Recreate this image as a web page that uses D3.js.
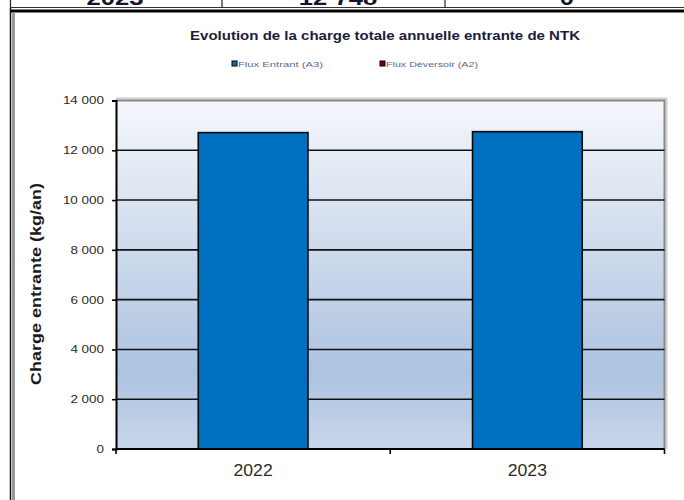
<!DOCTYPE html>
<html>
<head>
<meta charset="utf-8">
<script src="https://cdn.jsdelivr.net/npm/d3@7"></script>
<style>
  body { margin: 0; background: #fff; }
  svg { display: block; font-family: "Liberation Sans", Arial, sans-serif; }
</style>
</head>
<body>
<div id="chart"></div>
<script>
// values
const years = ["2022", "2023"]
const fluxEntrant = [12710, 12748]
const yTicks = [0, 2000, 4000, 6000, 8000, 10000, 12000, 14000]
const legendLabels = ["Flux Entrant (A3)", "Flux Déversoir (A2)"]
const tableRow = ["2023", "12 748", "0"]

const title = "Evolution de la charge totale annuelle entrante de NTK"
const yLabel = "Charge entrante (kg/an)"

const legendFills = ["#0070c0", "#7a0000"]
const stretch = 1.28 // source text is squeezed wider than it is tall

const dims = {
    width: 684,
    height: 500,
    plot: { left: 116, right: 664.5, top: 100.5, bottom: 449 }
}

const fr = d3.formatLocale({ decimal: ",", thousands: "\u00a0", grouping: [3], currency: ["", "€"] })
const fmt = fr.format(",d")

const svg = d3.select("#chart")
    .append("svg")
    .attr("width", dims.width)
    .attr("height", dims.height)

// stretch a text node horizontally to a given factor of its own width
function widen(sel, k) {
    sel.each(function() {
        const len = this.getComputedTextLength()
        d3.select(this).attr("textLength", len * k).attr("lengthAdjust", "spacingAndGlyphs")
    })
}

// --- bit of the table above the chart
const cellCenters = [115, 338, 567]
svg.selectAll(".cell")
    .data(tableRow)
    .join("text")
    .attr("class", "cell")
    .attr("x", (d, i) => cellCenters[i])
    .attr("y", 5)
    .attr("text-anchor", "middle")
    .attr("font-size", 20)
    .attr("font-weight", "bold")
    .attr("fill", "#15152a")
    .text(d => d)
    .call(widen, stretch)

svg.append("line").attr("x1", 10).attr("x2", 684).attr("y1", 7.5).attr("y2", 7.5)
    .attr("stroke", "#333").attr("stroke-width", 1)
;[10.5, 222, 445].forEach(x => {
    svg.append("line").attr("x1", x).attr("x2", x).attr("y1", 0).attr("y2", 8)
        .attr("stroke", "#222").attr("stroke-width", 1.2)
})
svg.append("line").attr("x1", 10).attr("x2", 684).attr("y1", 11).attr("y2", 11)
    .attr("stroke", "#000").attr("stroke-width", 3)
svg.append("line").attr("x1", 10.5).attr("x2", 10.5).attr("y1", 8).attr("y2", 500)
    .attr("stroke", "#111").attr("stroke-width", 1.5)
svg.append("line").attr("x1", 13.5).attr("x2", 13.5).attr("y1", 12.5).attr("y2", 500)
    .attr("stroke", "#9a9a9a").attr("stroke-width", 3)

// --- scales
const p = dims.plot
const xScale = d3.scaleBand().domain(years).range([p.left, p.right]).paddingInner(0.6).paddingOuter(0.3)
const yScale = d3.scaleLinear().domain([0, 14000]).range([p.bottom, p.top])

// --- plot background
const defs = svg.append("defs")
const grad = defs.append("linearGradient").attr("id", "bg").attr("x1", 0).attr("x2", 0).attr("y1", 0).attr("y2", 1)
grad.append("stop").attr("offset", "0%").attr("stop-color", "#f5f7fb")
grad.append("stop").attr("offset", "78%").attr("stop-color", "#adc3e0")
grad.append("stop").attr("offset", "100%").attr("stop-color", "#c7d6ea")

svg.append("rect")
    .attr("x", p.left).attr("y", p.top)
    .attr("width", p.right - p.left).attr("height", p.bottom - p.top)
    .attr("fill", "url(#bg)")

// frame top / right (grey) with soft shadow
svg.append("path")
    .attr("d", `M${p.left},${p.top - 2} H${p.right + 2} V${p.bottom}`)
    .attr("fill", "none").attr("stroke", "#d0d0d0").attr("stroke-width", 2)
svg.append("path")
    .attr("d", `M${p.left},${p.top} H${p.right} V${p.bottom}`)
    .attr("fill", "none").attr("stroke", "#888").attr("stroke-width", 2)

// gridlines
svg.append("g")
    .selectAll("line")
    .data(yTicks.filter(d => d > 0 && d < 14000))
    .join("line")
    .attr("x1", p.left).attr("x2", p.right)
    .attr("y1", d => yScale(d)).attr("y2", d => yScale(d))
    .attr("stroke", "#111").attr("stroke-width", 1.6)

// bars
svg.append("g")
    .selectAll("rect")
    .data(fluxEntrant)
    .join("rect")
    .attr("x", (d, i) => xScale(years[i]))
    .attr("y", d => yScale(d))
    .attr("width", xScale.bandwidth())
    .attr("height", d => yScale(0) - yScale(d))
    .attr("fill", "#0070c0")
    .attr("stroke", "#0a0a0a")
    .attr("stroke-width", 1.6)

// y axis
const yAxis = svg.append("g")
    .attr("transform", `translate(${p.left},0)`)
    .call(d3.axisLeft(yScale).tickValues(yTicks).tickFormat(fmt).tickSize(4).tickPadding(8))
yAxis.select(".domain").attr("stroke", "#000").attr("stroke-width", 2)
yAxis.selectAll(".tick line").attr("stroke", "#000").attr("stroke-width", 1.6)
yAxis.selectAll(".tick text")
    .attr("font-size", 10.5)
    .attr("fill", "#2a2a2a")
    .attr("font-family", "'Liberation Sans', Arial, sans-serif")
    .call(widen, stretch)

// x axis: ticks sit on band edges, labels in the middle
const xAxis = svg.append("g").attr("transform", `translate(0,${p.bottom})`)
xAxis.append("line")
    .attr("x1", p.left).attr("x2", p.right)
    .attr("stroke", "#000").attr("stroke-width", 2)
const step = xScale.step()
xAxis.selectAll(".xtick")
    .data(d3.range(years.length + 1))
    .join("line")
    .attr("class", "xtick")
    .attr("x1", i => p.left + i * step).attr("x2", i => p.left + i * step)
    .attr("y1", 0).attr("y2", 5)
    .attr("stroke", "#000").attr("stroke-width", 1.6)
xAxis.selectAll(".xlabel")
    .data(years)
    .join("text")
    .attr("class", "xlabel")
    .attr("x", d => xScale(d) + xScale.bandwidth() / 2)
    .attr("y", 27)
    .attr("text-anchor", "middle")
    .attr("font-size", 16)
    .attr("fill", "#2a2a2a")
    .text(d => d)
    .call(widen, 1.1)

// title
svg.append("text")
    .attr("x", 385).attr("y", 40)
    .attr("text-anchor", "middle")
    .attr("font-size", 12.5)
    .attr("font-weight", "bold")
    .attr("fill", "#1c1c3c")
    .attr("textLength", 390)
    .attr("lengthAdjust", "spacingAndGlyphs")
    .text(title)

// legend
const legendX = [232, 380]
const legendW = [85, 92]
const leg = svg.append("g")
    .selectAll("g")
    .data(legendLabels)
    .join("g")
    .attr("transform", (d, i) => `translate(${legendX[i]},64)`)
leg.append("rect")
    .attr("x", 0).attr("y", -3).attr("width", 5).attr("height", 5)
    .attr("fill", (d, i) => legendFills[i]).attr("stroke", "#000").attr("stroke-width", 1)
leg.append("text")
    .attr("x", 6).attr("y", 2.5)
    .attr("font-size", 8)
    .attr("fill", "#5a6a90")
    .attr("textLength", (d, i) => legendW[i])
    .attr("lengthAdjust", "spacingAndGlyphs")
    .text(d => d)

// y label
svg.append("text")
    .attr("transform", "translate(41,284) rotate(-90)")
    .attr("text-anchor", "middle")
    .attr("font-size", 15)
    .attr("font-weight", "bold")
    .attr("fill", "#1a1a1a")
    .attr("textLength", 202)
    .attr("lengthAdjust", "spacingAndGlyphs")
    .text(yLabel)
</script>
</body>
</html>
